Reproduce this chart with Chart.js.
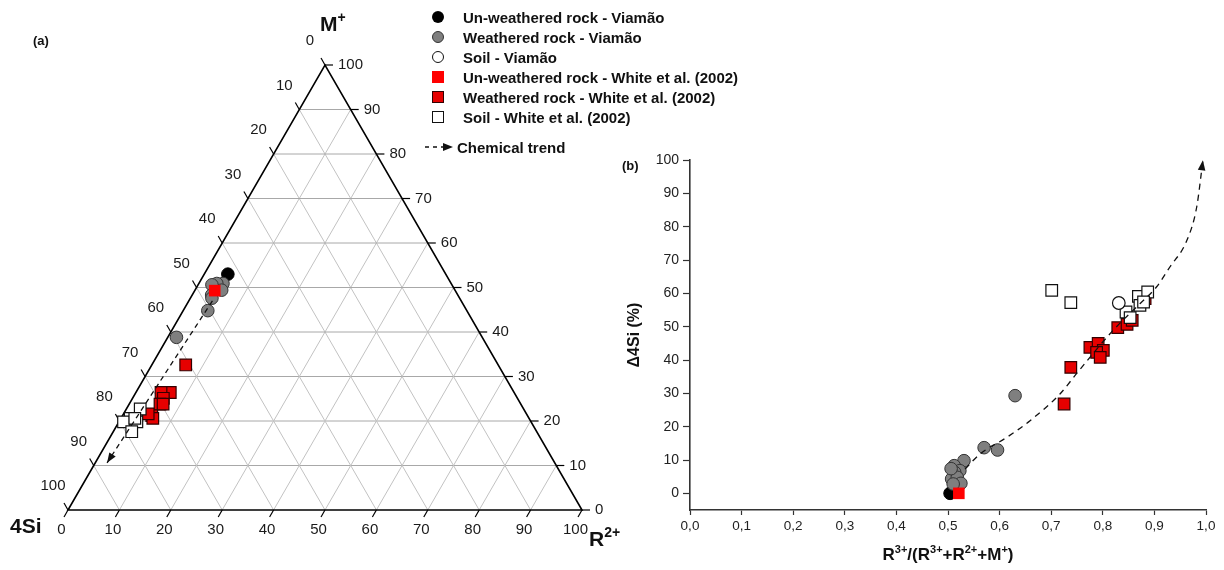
<!DOCTYPE html>
<html>
<head>
<meta charset="utf-8">
<script src="https://cdn.jsdelivr.net/npm/chart.js@4.4.0/dist/chart.umd.min.js"></script>
<style>
  body { margin: 0; width: 1224px; height: 570px; background: #fff; position: relative; overflow: hidden;
         font-family: "Liberation Sans", Arial, sans-serif; }
  #tern { position: absolute; left: 0; top: 0; }
  #xy { position: absolute; left: 600px; top: 0; }
  #legend { position: absolute; left: 432px; top: 7px; font-weight: bold; font-size: 15px; color: #111; }
  #legend .row { height: 20px; display: flex; align-items: center; white-space: nowrap; }
  #legend .sym { width: 12px; height: 12px; box-sizing: border-box; margin-right: 19px; flex: none; }
  #legend .circ { border-radius: 50%; }
  #legend .trend { position: absolute; left: -8px; top: 130px; }
  #legend .trend svg { margin-right: 3px; }
</style>
</head>
<body>
<canvas id="tern" width="630" height="570"></canvas>
<canvas id="xy" width="624" height="570"></canvas>
<div id="legend">
  <div class="row"><span class="sym circ" style="background:#000"></span>Un-weathered rock - Viamão</div>
  <div class="row"><span class="sym circ" style="background:#7f7f7f;border:1px solid #333"></span>Weathered rock - Viamão</div>
  <div class="row"><span class="sym circ" style="background:#fff;border:1.3px solid #111"></span>Soil - Viamão</div>
  <div class="row"><span class="sym" style="background:#ff0000"></span>Un-weathered rock - White et al. (2002)</div>
  <div class="row"><span class="sym" style="background:#e60000;border:1.3px solid #300"></span>Weathered rock - White et al. (2002)</div>
  <div class="row"><span class="sym" style="background:#fff;border:1.3px solid #111"></span>Soil - White et al. (2002)</div>
  <div class="row trend">
    <svg width="30" height="10"><line x1="1" y1="5" x2="20" y2="5" stroke="#111" stroke-width="1.3" stroke-dasharray="4,4"/><path d="M29 5 L19 1 L19 9 Z" fill="#111"/></svg>Chemical trend
  </div>
</div>
<script>
Chart.defaults.font.family = '"Liberation Sans", Arial, sans-serif';
Chart.defaults.color = '#1a1a1a';

// ---- ternary compositions: [4Si, R2+, M+] ----
const ternUnweatheredViamao = [[42.4, 4.6, 53.0]];
const ternWeatheredViamao = [
  [44.4, 4.7, 50.9], [45.6, 3.5, 50.9], [46.7, 2.7, 50.6], [45.4, 5.2, 49.4],
  [47.9, 3.8, 48.3], [48.2, 4.2, 47.6], [50.4, 4.8, 44.8], [59.5, 1.7, 38.8]
];
const ternUnweatheredWhite = [[46.8, 3.9, 49.3]];
const ternWeatheredWhite = [
  [60.8, 6.6, 32.6], [66.9, 6.7, 26.4], [68.7, 4.9, 26.4], [68.9, 6.0, 25.1], [70.2, 6.0, 23.8],
  [69.6, 6.6, 23.8], [73.1, 5.7, 21.2], [73.2, 6.2, 20.6], [73.6, 4.8, 21.6]
];
const ternSoilWhite = [
  [74.6, 2.7, 22.7], [77.6, 1.8, 20.6], [79.3, 0.9, 19.8], [76.7, 3.5, 19.8], [78.8, 3.6, 17.6], [76.7, 2.7, 20.6]
];
const ternTrend = [[48.4, 4.6, 47.0], [87.1, 2.3, 10.6]];
const ternTicks = [0, 10, 20, 30, 40, 50, 60, 70, 80, 90, 100];

// ---- R3+/(R3+ + R2+ + M+) vs Δ4Si ----
const xyUnweatheredViamao = [[0.504, 0]];
const xyWeatheredViamao = [
  [0.630, 29.3], [0.570, 13.7], [0.596, 13.0], [0.531, 9.8], [0.512, 8.3], [0.523, 6.8],
  [0.513, 6.3], [0.507, 4.3], [0.518, 4.8], [0.525, 3.0], [0.510, 2.8], [0.506, 7.4]
];
const xySoilViamao = [[0.831, 57.1]];
const xyUnweatheredWhite = [[0.521, 0]];
const xyWeatheredWhite = [
  [0.738, 37.8], [0.725, 26.8], [0.775, 43.8], [0.791, 45.0], [0.801, 42.9], [0.788, 42.3],
  [0.795, 40.8], [0.829, 49.7], [0.847, 50.7], [0.857, 51.9], [0.882, 58.4]
];
const xySoilWhite = [
  [0.701, 60.9], [0.738, 57.2], [0.845, 54.4], [0.853, 52.7], [0.869, 59.1], [0.872, 56.4], [0.887, 60.4], [0.879, 57.4]
];
const xyTrend = [
  [0.533, 7.3], [0.562, 11.8], [0.614, 16.8], [0.659, 21.8], [0.717, 29.8], [0.749, 35.9], [0.820, 48.9],
  [0.872, 56.9], [0.904, 61.9], [0.930, 67.9], [0.963, 75.9], [0.982, 85.9], [0.994, 99.9]
];
const xTicks = [0, 0.1, 0.2, 0.3, 0.4, 0.5, 0.6, 0.7, 0.8, 0.9, 1.0];
const yTicks = [0, 10, 20, 30, 40, 50, 60, 70, 80, 90, 100];

// marker styles
const styles = {
  blackCircle: {pointStyle: 'circle', pointRadius: 6.3, backgroundColor: '#000', borderColor: '#000', borderWidth: 1},
  grayCircle: {pointStyle: 'circle', pointRadius: 6.3, backgroundColor: '#7f7f7f', borderColor: '#333', borderWidth: 1},
  whiteCircle: {pointStyle: 'circle', pointRadius: 6.3, backgroundColor: '#fff', borderColor: '#111', borderWidth: 1.2},
  redPlain: {pointStyle: 'rect', pointRadius: 8.2, backgroundColor: '#ff0000', borderColor: '#ff0000', borderWidth: 0},
  redBoxed: {pointStyle: 'rect', pointRadius: 8.2, backgroundColor: '#e60000', borderColor: '#300', borderWidth: 1.2},
  whiteBox: {pointStyle: 'rect', pointRadius: 8.2, backgroundColor: '#fff', borderColor: '#111', borderWidth: 1.2}
};

const toXY = ([s, r, m]) => {
  const t = s + r + m;
  return {x: 100 * (r + m / 2) / t, y: 100 * (m / t) * Math.sqrt(3) / 2};
};
const pairs = arr => arr.map(([x, y]) => ({x, y}));

const pointSet = (label, data, style, order) =>
  Object.assign({label, data, order, showLine: false, pointHoverRadius: 0, clip: false}, style);

const trendSet = (data, dash) => ({
  label: 'Chemical trend', data, order: 0, showLine: true, arrow: true, clip: false,
  borderColor: '#111', borderWidth: 1.3, borderDash: dash, pointRadius: 0,
  cubicInterpolationMode: 'monotone'
});

// filled arrowhead at the last point of a flagged line
const arrowHeads = {
  id: 'arrowHeads',
  afterDatasetsDraw(chart) {
    const ctx = chart.ctx;
    chart.data.datasets.forEach((ds, i) => {
      if (!ds.arrow) return;
      const pts = chart.getDatasetMeta(i).data;
      const a = pts[pts.length - 2], b = pts[pts.length - 1];
      ctx.save();
      ctx.translate(b.x, b.y);
      ctx.rotate(Math.atan2(b.y - a.y, b.x - a.x));
      ctx.beginPath();
      ctx.moveTo(0, 0);
      ctx.lineTo(-10, -3.8);
      ctx.lineTo(-10, 3.8);
      ctx.closePath();
      ctx.fillStyle = '#111';
      ctx.fill();
      ctx.restore();
    });
  }
};

// bold text with superscript pieces; parts = [[text, isSup], ...]
function richText(ctx, parts, x, y, size, align) {
  const fontFor = sup => `bold ${sup ? Math.round(size * 0.66) : size}px "Liberation Sans", Arial, sans-serif`;
  let w = 0;
  for (const [t, sup] of parts) { ctx.font = fontFor(sup); w += ctx.measureText(t).width; }
  let cx = align === 'center' ? x - w / 2 : x;
  ctx.textAlign = 'left';
  ctx.textBaseline = 'alphabetic';
  for (const [t, sup] of parts) {
    ctx.font = fontFor(sup);
    ctx.fillText(t, cx, sup ? y - size * 0.42 : y);
    cx += ctx.measureText(t).width;
  }
}

// triangle frame, grid, ticks and labels
const ternFrame = {
  id: 'ternFrame',
  beforeDatasetsDraw(chart) {
    const {ctx, scales: {x, y}} = chart;
    const px = c => { const p = toXY(c); return [x.getPixelForValue(p.x), y.getPixelForValue(p.y)]; };
    const seg = (a, b) => { ctx.beginPath(); ctx.moveTo(a[0], a[1]); ctx.lineTo(b[0], b[1]); ctx.stroke(); };
    ctx.save();
    ctx.lineWidth = 1;
    for (const v of ternTicks.slice(1, -1)) {
      ctx.strokeStyle = '#a8a8a8';
      seg(px([100 - v, 0, v]), px([0, 100 - v, v]));
      ctx.strokeStyle = '#c2c2c2';
      seg(px([100 - v, v, 0]), px([0, v, 100 - v]));
      seg(px([v, 100 - v, 0]), px([v, 0, 100 - v]));
    }
    ctx.strokeStyle = '#000';
    ctx.lineWidth = 1.6;
    const A = px([100, 0, 0]), B = px([0, 100, 0]), C = px([0, 0, 100]);
    ctx.beginPath();
    ctx.moveTo(A[0], A[1]); ctx.lineTo(B[0], B[1]); ctx.lineTo(C[0], C[1]); ctx.closePath();
    ctx.stroke();

    const s3 = Math.sqrt(3) / 2;
    ctx.lineWidth = 1.2;
    ctx.fillStyle = '#1a1a1a';
    ctx.font = '15px "Liberation Sans", Arial, sans-serif';
    ctx.textBaseline = 'middle';
    for (const v of ternTicks) {
      // R2+ along the base
      let p = px([100 - v, v, 0]);
      seg(p, [p[0] - 4, p[1] + 8 * s3]);
      ctx.textAlign = 'center';
      ctx.fillText(String(v), p[0] - 6.5, p[1] + 20);
      // 4Si along the left edge
      p = px([v, 0, 100 - v]);
      seg(p, [p[0] - 4, p[1] - 8 * s3]);
      ctx.fillText(String(v), p[0] - 15, p[1] - 24);
      // M+ along the right edge
      p = px([0, 100 - v, v]);
      seg(p, [p[0] + 8, p[1]]);
      ctx.textAlign = 'left';
      ctx.fillText(String(v), p[0] + 13, p[1]);
    }
    ctx.fillStyle = '#111';
    richText(ctx, [['M', false], ['+', true]], C[0] - 5, 31, 21);
    richText(ctx, [['4Si', false]], 10, 533, 21);
    richText(ctx, [['R', false], ['2+', true]], 589, 546, 21);
    richText(ctx, [['(a)', false]], 33, 45, 13);
    ctx.restore();
  }
};

new Chart(document.getElementById('tern'), {
  type: 'scatter',
  data: {
    datasets: [
      trendSet(ternTrend.map(toXY), [5, 4]),
      pointSet('Un-weathered rock - White et al. (2002)', ternUnweatheredWhite.map(toXY), styles.redPlain, 1),
      pointSet('Soil - White et al. (2002)', ternSoilWhite.map(toXY), styles.whiteBox, 2),
      pointSet('Weathered rock - White et al. (2002)', ternWeatheredWhite.map(toXY), styles.redBoxed, 3),
      pointSet('Weathered rock - Viamão', ternWeatheredViamao.map(toXY), styles.grayCircle, 4),
      pointSet('Un-weathered rock - Viamão', ternUnweatheredViamao.map(toXY), styles.blackCircle, 5)
    ]
  },
  options: {
    responsive: false,
    animation: false,
    layout: {padding: {left: 68, right: 48, top: 65, bottom: 60}},
    plugins: {legend: {display: false}, tooltip: {enabled: false}},
    scales: {
      x: {type: 'linear', min: 0, max: 100, display: false},
      y: {type: 'linear', min: 0, max: 100 * Math.sqrt(3) / 2, display: false}
    }
  },
  plugins: [ternFrame, arrowHeads]
});

// panel letter and x title with superscripts
const xyLabels = {
  id: 'xyLabels',
  afterDraw(chart) {
    const {ctx, chartArea} = chart;
    ctx.save();
    ctx.fillStyle = '#111';
    richText(ctx, [['(b)', false]], 22, 170, 13);
    richText(ctx, [
      ['R', false], ['3+', true], ['/(R', false], ['3+', true], ['+R', false], ['2+', true],
      ['+M', false], ['+', true], [')', false]
    ], (chartArea.left + chartArea.right) / 2, 560, 17, 'center');
    ctx.restore();
  }
};

const axisGrid = {display: true, drawOnChartArea: false, drawTicks: true, tickLength: 7, tickColor: '#333', tickWidth: 1.2};

new Chart(document.getElementById('xy'), {
  type: 'scatter',
  data: {
    datasets: [
      trendSet(pairs(xyTrend), [6, 5]),
      pointSet('Soil - Viamão', pairs(xySoilViamao), styles.whiteCircle, 1),
      pointSet('Soil - White et al. (2002)', pairs(xySoilWhite), styles.whiteBox, 2),
      pointSet('Weathered rock - White et al. (2002)', pairs(xyWeatheredWhite), styles.redBoxed, 3),
      pointSet('Un-weathered rock - White et al. (2002)', pairs(xyUnweatheredWhite), styles.redPlain, 4),
      pointSet('Weathered rock - Viamão', pairs(xyWeatheredViamao), styles.grayCircle, 5),
      pointSet('Un-weathered rock - Viamão', pairs(xyUnweatheredViamao), styles.blackCircle, 6)
    ]
  },
  options: {
    responsive: false,
    animation: false,
    layout: {padding: {left: 0, right: 18, top: 160, bottom: 0}},
    plugins: {legend: {display: false}, tooltip: {enabled: false}},
    scales: {
      x: {
        type: 'linear', min: 0, max: 1,
        afterBuildTicks: s => { s.ticks = xTicks.map(v => ({value: v})); },
        afterFit: s => { s.height = 60; },
        grid: Object.assign({}, axisGrid, {tickLength: 5}),
        border: {display: true, color: '#333', width: 1.6},
        ticks: {callback: v => v.toFixed(1).replace('.', ','), font: {size: 13.5}, color: '#222', padding: 3, maxRotation: 0}
      },
      y: {
        type: 'linear', min: -5, max: 100,
        afterBuildTicks: s => { s.ticks = yTicks.map(v => ({value: v})); },
        afterFit: s => { s.width = 90; },
        grid: axisGrid,
        border: {display: true, color: '#333', width: 1.6},
        ticks: {font: {size: 14}, color: '#222', padding: 4},
        title: {display: true, text: 'Δ4Si (%)', font: {size: 16, weight: 'bold'}, color: '#111', padding: {top: 25, bottom: 0}}
      }
    }
  },
  plugins: [xyLabels, arrowHeads]
});
</script>
</body>
</html>
